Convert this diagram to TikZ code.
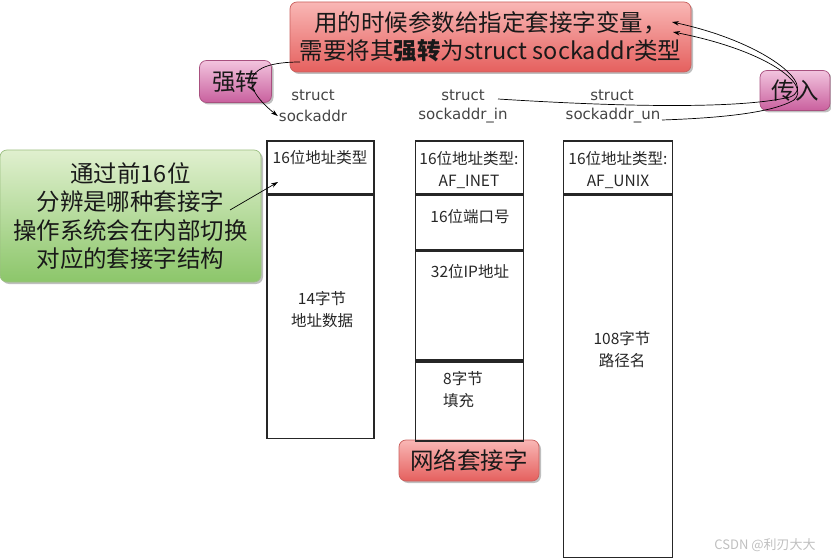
\documentclass[tikz,border=0pt]{standalone}
\usepackage{fontspec}
\setmainfont{Noto Sans CJK SC}
\newfontfamily\dv{DejaVu Sans}
\usetikzlibrary{arrows.meta,shadows}
\definecolor{redtop}{HTML}{F9B7B5}
\definecolor{redbot}{HTML}{E5605E}
\definecolor{redline}{HTML}{C9605E}
\definecolor{pinktop}{HTML}{F2C4DE}
\definecolor{pinkbot}{HTML}{C9609E}
\definecolor{pinkline}{HTML}{A8507F}
\definecolor{greentop}{HTML}{E0F0CF}
\definecolor{greenbot}{HTML}{8CC66A}
\definecolor{greenline}{HTML}{9CBF82}
\definecolor{lblgray}{HTML}{444444}
\begin{document}
\begin{tikzpicture}[x=1pt,y=-1pt,
  callout/.style={draw, rounded corners=7pt, line width=0.7pt, align=center, inner sep=0pt,
     font=\fontsize{23.5}{28}\selectfont, text=black!90,
     drop shadow={shadow xshift=2pt, shadow yshift=-2pt, opacity=0.25, fill=black}},
  redbox/.style={callout, draw=redline, top color=redtop, bottom color=redbot},
  pinkbox/.style={callout, draw=pinkline, top color=pinktop, bottom color=pinkbot},
  greenbox/.style={callout, draw=greenline, top color=greentop, bottom color=greenbot},
  cell/.style={draw=black!85, line width=1.6pt, inner sep=0pt},
  celltxt/.style={font=\fontsize{15.5}{22}\selectfont, text=black!85, align=center, inner sep=0pt},
  lbl/.style={font=\dv\fontsize{15}{21}\selectfont, text=lblgray, inner sep=1pt},
  arr/.style={-{Stealth[length=7pt,width=4.5pt]}, line width=0.7pt, black}
]
\useasboundingbox (0,0) rectangle (831,559);

% callouts
\node[redbox, minimum width=401pt, minimum height=70pt] (top) at (490.5,37)
  {用的时候参数给指定套接字变量，\\需要将其\textbf{强转}为struct sockaddr类型};
\node[pinkbox, minimum width=72pt, minimum height=42pt] (qz) at (235.5,81.5) {强转};
\node[pinkbox, minimum width=70pt, minimum height=40pt] (cr) at (795,90.5) {传入};
\node[greenbox, minimum width=261pt, minimum height=132pt, font=\fontsize{23.5}{28.5}\selectfont] (gr) at (130.5,216)
  {通过前16位\\分辨是哪种套接字\\操作系统会在内部切换\\对应的套接字结构};
\node[redbox, minimum width=140pt, minimum height=41pt] (net) at (469,460.5) {网络套接字};

% struct labels
\node[lbl] (l1a) at (313,95) {struct};
\node[lbl] (l1b) at (313,116) {sockaddr};
\node[lbl] (l2a) at (463,95) {struct};
\node[lbl] (l2b) at (463,116) {sockaddr\_in};
\node[lbl] (l3a) at (612,95) {struct};
\node[lbl] (l3b) at (613,116) {sockaddr\_un};

% column 1
\node[cell, minimum width=107pt, minimum height=53pt] (c1a) at (320.5,167.5) {};
\node[cell, minimum width=107pt, minimum height=243pt, anchor=north] (c1b) at (c1a.south) {};
% column 2
\node[cell, minimum width=108pt, minimum height=53pt] (c2a) at (469.5,167.5) {};
\node[cell, minimum width=108pt, minimum height=54pt, anchor=north] (c2b) at (c2a.south) {};
\node[cell, minimum width=108pt, minimum height=109pt, anchor=north] (c2c) at (c2b.south) {};
\node[cell, minimum width=108pt, minimum height=79pt, anchor=north] (c2d) at (c2c.south) {};
% column 3
\node[cell, minimum width=109pt, minimum height=53pt] (c3a) at (618,167.5) {};
\node[cell, minimum width=109pt, minimum height=362pt, anchor=north] (c3b) at (c3a.south) {};

% cell texts
\node[celltxt] (t1a) at (320,158) {16位地址类型};
\node[celltxt] (t1b) at (322,310) {14字节\\地址数据};
\node[celltxt] (t2a) at (469,170) {16位地址类型:\\AF\_INET};
\node[celltxt] (t2b) at (470,217) {16位端口号};
\node[celltxt] (t2c) at (470,272) {32位IP地址};
\node[celltxt, align=left, anchor=west] (t2d) at (443,390) {8字节\\填充};
\node[celltxt] (t3a) at (618,170) {16位地址类型:\\AF\_UNIX};
\node[celltxt] (t3b) at (622,350) {108字节\\路径名};

% watermark
\node[font=\fontsize{13}{15}\selectfont, text=black!25, inner sep=0pt] (wm) at (765,545) {CSDN @利刃大大};

% connectors
\coordinate (s1) at (300,62);
\draw[arr] (s1) .. controls (245,62) and (238,84) .. (l1b.west);

\coordinate (s2) at (498,99);
\coordinate (e2) at (672,22);
\draw[arr] (s2) .. controls (640,108) and (745,108) .. (790,97) .. controls (818,86) and (765,42) .. (e2);

\coordinate (s3) at (662,120);
\coordinate (e3) at (673,32);
\draw[arr] (s3) .. controls (720,118) and (772,113) .. (794,100) .. controls (812,84) and (765,50) .. (e3);

\coordinate (s4) at (230,210);
\coordinate (e4) at (278,182);
\draw[arr] (s4) -- (e4);
\end{tikzpicture}
\end{document}
